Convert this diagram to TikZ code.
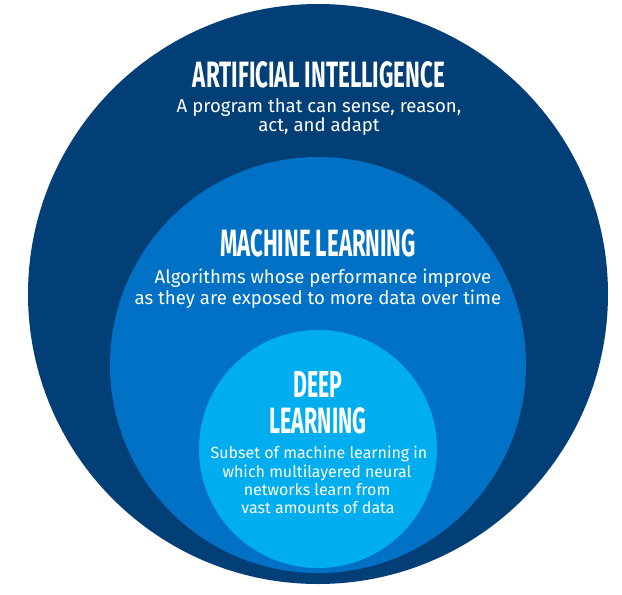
\documentclass[tikz,border=0pt]{standalone}
\usepackage{fontspec}
\setmainfont{Fira Sans}
\definecolor{aiblue}{HTML}{033F77}
\definecolor{mlblue}{HTML}{0071C5}
\definecolor{dlblue}{HTML}{00AEEF}
\newcommand{\ttl}[3]{\resizebox{#1pt}{#2pt}{\bfseries #3}}
\begin{document}
\begin{tikzpicture}[x=1pt,y=-1pt,
  ring/.style={circle,inner sep=0pt,draw=none},
  title/.style={anchor=base,inner sep=0pt,text=white},
  subA/.style={anchor=base,inner sep=0pt,text=white,font=\fontsize{18.6}{20}\selectfont},
  subD/.style={anchor=base,inner sep=0pt,text=white,font=\fontsize{16}{18}\selectfont}]
\fill[white] (0,0) rectangle (622,595);
\useasboundingbox (0,0) rectangle (622,595);
\node[ring,fill=aiblue,minimum size=580pt] (ai) at (318,294) {};
\node[ring,fill=mlblue,minimum size=416pt] (ml) at (318,365) {};
\node[ring,fill=dlblue,minimum size=238pt] (dl) at (318,449) {};
% AI
\node[title] (aiT) at (319,87) {\ttl{252}{26}{ARTIFICIAL INTELLIGENCE}};
\node[subA] (ai1) at (319,112) {A program that can sense, reason,};
\node[subA] (ai2) at (319,131) {act, and adapt};
% ML
\node[title] (mlT) at (318,256) {\ttl{196}{27}{MACHINE LEARNING}};
\node[subA] (ml1) at (323,283) {Algorithms whose performance improve};
\node[subA] (ml2) at (318,304) {as they are exposed to more data over time};
% DL
\node[title] (dlT1) at (318,397) {\ttl{49}{26}{DEEP}};
\node[title] (dlT2) at (318,433) {\ttl{97}{26}{LEARNING}};
\node[subD] (dl1) at (319,458) {Subset of machine learning in};
\node[subD] (dl2) at (317,477) {which multilayered neural};
\node[subD] (dl3) at (317,495) {networks learn from};
\node[subD] (dl4) at (318,513) {vast amounts of data};
\end{tikzpicture}
\end{document}
